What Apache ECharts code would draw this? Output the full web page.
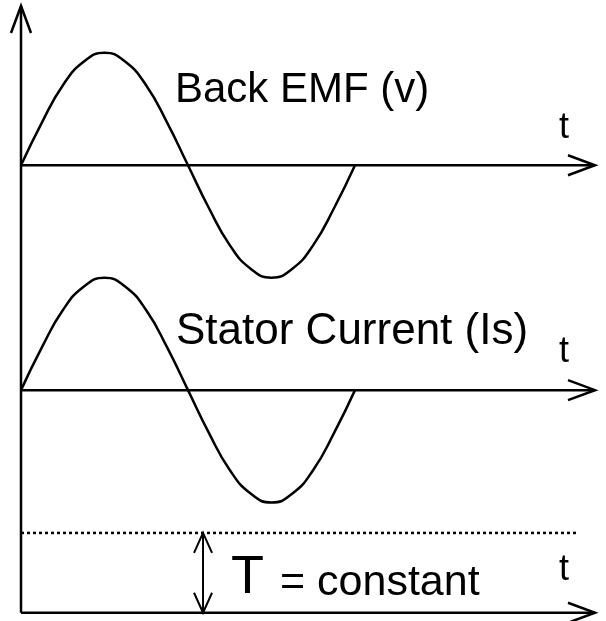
<!DOCTYPE html>
<html>
<head>
<meta charset="utf-8">
<script src="https://cdn.jsdelivr.net/npm/echarts@6/dist/echarts.min.js"></script>
<style>
  html, body { margin: 0; padding: 0; background: #fff; }
  #chart { width: 606px; height: 621px; }
</style>
</head>
<body>
<div id="chart"></div>
<script>
// time samples over one period (t = 1 is one full cycle)
const timeArr = [0, 0.0625, 0.125, 0.1875, 0.25, 0.3125, 0.375, 0.4375, 0.5,
  0.5625, 0.625, 0.6875, 0.75, 0.8125, 0.875, 0.9375, 1];
// back EMF (amplitude units)
const backEmf = [0, 0.38, 0.71, 0.92, 1.0, 0.92, 0.71, 0.38, 0,
  -0.38, -0.71, -0.92, -1.0, -0.92, -0.71, -0.38, 0];
// stator current (amplitude units)
const statorCurrent = [0, 0.38, 0.71, 0.92, 1.0, 0.92, 0.71, 0.38, 0,
  -0.38, -0.71, -0.92, -1.0, -0.92, -0.71, -0.38, 0];

// baselines of the three traces
const emfBase = 0;
const currentBase = -2;
const torqueBase = -3.98;
const torqueLevel = -3.27; // dotted line, T = constant
const axisEnd = 1.7186;    // right arrow tip of the t axes
const yTop = 1.417;        // tip of the vertical axis

// axes: [x1, y1, x2, y2, arrowAtStart, arrowAtEnd]
const axisSegs = [
  [0, torqueBase, 0, yTop, 0, 1],
  [0, emfBase, axisEnd, emfBase, 0, 1],
  [0, currentBase, axisEnd, currentBase, 0, 1],
  [0, torqueBase, axisEnd, torqueBase, 0, 1]
];
// double arrow showing the torque level
const torqueArrow = [[0.545, torqueLevel, 0.545, torqueBase, 1, 1]];
const dottedLine = [[0, torqueLevel], [1.665, torqueLevel]];

const chart = echarts.init(document.getElementById('chart'));

function arrowRender(headLen, headHalf, width) {
  return function (params, api) {
    const p1 = api.coord([api.value(0), api.value(1)]);
    const p2 = api.coord([api.value(2), api.value(3)]);
    const dx = p2[0] - p1[0], dy = p2[1] - p1[1];
    const len = Math.sqrt(dx * dx + dy * dy) || 1;
    const ux = dx / len, uy = dy / len;
    const nx = -uy, ny = ux;
    const style = { stroke: '#000', lineWidth: width, fill: null };
    const children = [{
      type: 'line',
      shape: { x1: p1[0], y1: p1[1], x2: p2[0], y2: p2[1] },
      style: style
    }];
    const head = (tip, sx, sy) => ({
      type: 'polyline',
      shape: {
        points: [
          [tip[0] - sx * headLen + nx * headHalf, tip[1] - sy * headLen + ny * headHalf],
          tip,
          [tip[0] - sx * headLen - nx * headHalf, tip[1] - sy * headLen - ny * headHalf]
        ]
      },
      style: style
    });
    if (api.value(4)) children.push(head(p1, -ux, -uy));
    if (api.value(5)) children.push(head(p2, ux, uy));
    return { type: 'group', children: children };
  };
}

const font = '"Liberation Sans", Arial, sans-serif';

const option = {
  animation: false,
  backgroundColor: '#fff',
  grid: { left: 21, right: 0.5, top: 0, bottom: 6 },
  xAxis: {
    type: 'value', min: 0, max: 1.75,
    axisLine: { show: false }, axisTick: { show: false },
    axisLabel: { show: false }, splitLine: { show: false }
  },
  yAxis: {
    type: 'value', min: -4, max: 1.47,
    axisLine: { show: false }, axisTick: { show: false },
    axisLabel: { show: false }, splitLine: { show: false }
  },
  series: [
    {
      name: 'Back EMF',
      type: 'line',
      smooth: 0.5,
      symbol: 'none',
      lineStyle: { color: '#000', width: 2.5 },
      data: timeArr.map((t, i) => [t, emfBase + backEmf[i]])
    },
    {
      name: 'Stator Current',
      type: 'line',
      smooth: 0.5,
      symbol: 'none',
      lineStyle: { color: '#000', width: 2.5 },
      data: timeArr.map((t, i) => [t, currentBase + statorCurrent[i]])
    },
    {
      name: 'T level',
      type: 'line',
      symbol: 'none',
      lineStyle: { color: '#000', width: 2.5, type: [3, 3] },
      data: dottedLine
    },
    {
      name: 'axes',
      type: 'custom',
      renderItem: arrowRender(27, 10, 2.5),
      encode: { x: [0, 2], y: [1, 3] },
      data: axisSegs
    },
    {
      name: 'torque arrow',
      type: 'custom',
      renderItem: arrowRender(20, 9, 2),
      encode: { x: [0, 2], y: [1, 3] },
      data: torqueArrow
    }
  ],
  graphic: [
    { type: 'text', left: 175, top: 69, style: { text: 'Back EMF (v)', font: '42px ' + font, fill: '#000' } },
    { type: 'text', left: 176, top: 310, style: { text: 'Stator Current (Is)', font: '44px ' + font, fill: '#000' } },
    { type: 'text', left: 559, top: 110, style: { text: 't', font: '36px ' + font, fill: '#000' } },
    { type: 'text', left: 559, top: 334, style: { text: 't', font: '36px ' + font, fill: '#000' } },
    { type: 'text', left: 559, top: 552, style: { text: 't', font: '36px ' + font, fill: '#000' } },
    { type: 'text', left: 231, top: 551, style: { text: 'T', font: '54px ' + font, fill: '#000' } },
    { type: 'text', left: 280, top: 562, style: { text: '= constant', font: '43px ' + font, fill: '#000' } }
  ]
};

chart.setOption(option);
</script>
</body>
</html>
